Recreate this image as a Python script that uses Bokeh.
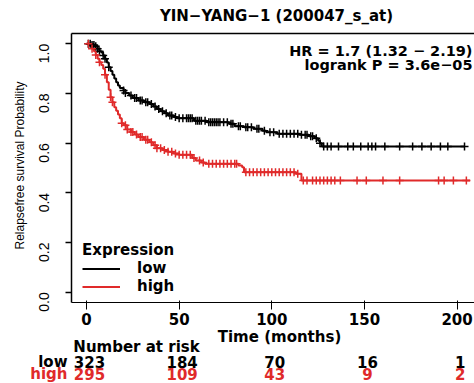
import math
import numpy as np
from bokeh.plotting import figure
from bokeh.models import (Range1d, FixedTicker, NumeralTickFormatter, LinearAxis,
                          Label, Legend, LegendItem)
from bokeh.embed import file_html
from bokeh.resources import INLINE

# ---------------- data ----------------
title_text = "YIN\u2212YANG\u22121 (200047_s_at)"
hr_text = "HR = 1.7 (1.32 \u2212 2.19)"
p_text = "logrank P = 3.6e\u221205"
group_names = ["low", "high"]

# Kaplan-Meier steps (months, survival)
low_time = [0, 3, 5, 6, 7, 8, 9, 10, 11, 12, 13, 14, 15, 16, 17, 18, 20, 21, 23, 25, 28, 31,
            34, 36, 38, 40, 42, 44, 47, 49, 58, 65, 77, 80, 85, 90, 95, 97, 103, 115, 120,
            123, 125, 126, 127, 204]
low_surv = [1.0, 0.995, 0.99, 0.98, 0.97, 0.965, 0.953, 0.94, 0.925, 0.906, 0.89, 0.875, 0.86,
            0.845, 0.832, 0.822, 0.812, 0.802, 0.792, 0.782, 0.772, 0.765, 0.758, 0.748, 0.738,
            0.728, 0.72, 0.711, 0.705, 0.70, 0.69, 0.684, 0.678, 0.668, 0.664, 0.658, 0.65,
            0.644, 0.638, 0.634, 0.628, 0.62, 0.61, 0.60, 0.587, 0.587]
low_censor = [1, 2, 3, 4, 5, 6, 7, 9, 10, 12, 20, 21, 24, 26, 27, 29, 30, 32, 33, 35, 37, 39, 41,
              43, 45, 46, 48, 50, 52, 54, 55, 56, 57, 59, 60, 61, 62, 64, 66, 67, 68, 69, 70, 71,
              72, 74, 76, 78, 79, 82, 83, 86, 87, 89, 92, 93, 96, 99, 101, 104, 106, 108, 110,
              112, 114, 116, 118, 119, 121, 122, 124, 126, 128, 130, 132, 136, 141, 144, 148,
              152, 154, 156, 161, 169, 176, 181, 186, 191, 195, 204]

high_time = [0, 2, 3, 4, 5, 6, 7, 8, 9, 10, 11, 12, 13, 14, 15, 16, 17, 18, 19, 20, 22, 24, 26,
             28, 31, 34, 36, 38, 41, 44, 47, 50, 57, 59, 62, 64, 82, 84, 85, 113, 116, 207]
high_surv = [1.0, 0.99, 0.98, 0.97, 0.955, 0.94, 0.926, 0.915, 0.90, 0.875, 0.845, 0.815, 0.785,
             0.765, 0.745, 0.73, 0.715, 0.70, 0.68, 0.672, 0.655, 0.645, 0.635, 0.625, 0.614,
             0.604, 0.592, 0.58, 0.572, 0.565, 0.558, 0.553, 0.54, 0.53, 0.522, 0.517, 0.51,
             0.503, 0.483, 0.477, 0.45, 0.45]
high_censor = [1, 3, 5, 7, 10, 13, 14, 19, 21, 22, 24, 25, 27, 29, 30, 32, 33, 35, 37, 38, 40,
               42, 44, 46, 48, 50, 52, 54, 56, 58, 61, 63, 66, 68, 70, 72, 74, 76, 78, 80, 81,
               86, 88, 90, 92, 94, 96, 98, 100, 102, 104, 106, 108, 110, 112, 114, 117, 119,
               122, 124, 126, 128, 130, 132, 134, 137, 146, 151, 160, 169, 190, 193, 198, 205]

x_ticks = [0, 50, 100, 150, 200]
y_ticks = [0.0, 0.2, 0.4, 0.6, 0.8, 1.0]
risk_times = [0, 50, 100, 150, 200]
risk_low = [323, 184, 70, 16, 1]
risk_high = [295, 109, 43, 9, 2]

# ---------------- style / layout ----------------
BLACK = "#000000"
RED = "#E02A2A"
BOLD = "DejaVu Sans"
REG = "Liberation Sans"

W, H = 474, 383
# canvas pixel <-> data mapping (frame covers whole canvas)
X0_PX, PX_PER_MONTH = 86.0, 1.853
Y0_PX, PX_PER_UNIT = 291.7, 248.4
XR = (-X0_PX / PX_PER_MONTH, (W - X0_PX) / PX_PER_MONTH)
YR = ((Y0_PX - H) / PX_PER_UNIT, Y0_PX / PX_PER_UNIT)


def dx(px):
    return (px - X0_PX) / PX_PER_MONTH


def dy(py):
    return (Y0_PX - py) / PX_PER_UNIT


BOX_L, BOX_T, BOX_B = dx(71), dy(33), dy(302)

p = figure(width=W, height=H, output_backend="svg", toolbar_location=None,
           x_range=Range1d(*XR), y_range=Range1d(*YR),
           min_border_left=0, min_border_right=0, min_border_top=0, min_border_bottom=0)
p.outline_line_color = None
p.grid.visible = False
p.background_fill_color = "white"
p.border_fill_color = "white"

top = LinearAxis(ticker=FixedTicker(ticks=[]))
p.add_layout(top, "above")

for ax in (p.xaxis[0], p.yaxis[0], top):
    ax.axis_line_color = BLACK
    ax.axis_line_width = 1.5
    ax.major_tick_line_color = BLACK
    ax.major_tick_line_width = 1.5
    ax.major_tick_in = 0
    ax.minor_tick_in = 0
    ax.minor_tick_out = 0

p.xaxis.fixed_location = BOX_B
p.xaxis.bounds = (BOX_L, XR[1] + 5)
p.xaxis.ticker = FixedTicker(ticks=x_ticks)
p.xaxis.major_tick_out = 7
p.xaxis.major_label_standoff = 3
p.xaxis.major_label_text_font = BOLD
p.xaxis.major_label_text_font_style = "bold"
p.xaxis.major_label_text_font_size = "15px"
p.xaxis.major_label_text_color = BLACK

p.yaxis.fixed_location = BOX_L
p.yaxis.bounds = (BOX_B, BOX_T)
p.yaxis.ticker = FixedTicker(ticks=y_ticks)
p.yaxis.formatter = NumeralTickFormatter(format="0.0")
p.yaxis.major_tick_out = 6
p.yaxis.major_label_standoff = 21
p.yaxis.major_label_orientation = math.pi / 2
p.yaxis.major_label_text_font = REG
p.yaxis.major_label_text_font_size = "14px"
p.yaxis.major_label_text_color = BLACK

top.fixed_location = BOX_T
top.bounds = (BOX_L, XR[1] + 5)
top.major_tick_out = 0
top.major_label_text_alpha = 0


def km_at(times, surv, t):
    idx = np.searchsorted(np.asarray(times), np.asarray(t), side="right") - 1
    return np.asarray(surv)[idx]


r_low = p.step(low_time, low_surv, mode="after", line_color=BLACK, line_width=2)
r_high = p.step(high_time, high_surv, mode="after", line_color=RED, line_width=2)
p.scatter(low_censor, km_at(low_time, low_surv, low_censor), marker="cross", size=8,
          line_color=BLACK, line_width=1.5)
p.scatter(high_censor, km_at(high_time, high_surv, high_censor), marker="cross", size=8,
          line_color=RED, line_width=1.5)

legend = Legend(items=[LegendItem(label=group_names[0], renderers=[r_low]),
                       LegendItem(label=group_names[1], renderers=[r_high])],
                title="Expression", location=(82, 88), orientation="vertical",
                title_text_font=BOLD, title_text_font_style="bold", title_text_font_size="15px",
                title_text_color=BLACK, title_standoff=0,
                label_text_font=BOLD, label_text_font_style="bold", label_text_font_size="15px",
                label_text_color=BLACK,
                label_height=17, glyph_height=17, glyph_width=38, label_standoff=17,
                spacing=0, padding=0, margin=0,
                background_fill_alpha=0, border_line_alpha=0)
p.add_layout(legend)


def add_label(text, px, py, align="left", color=BLACK, font=BOLD, style="bold", size="15px",
              angle=0.0, x_data=None, x_offset=0):
    lbl = Label(x=dx(px) if x_data is None else x_data, y=dy(py), text=text,
                text_align=align, text_baseline="middle", text_color=color,
                text_font=font, text_font_style=style, text_font_size=size,
                angle=angle, x_offset=x_offset)
    p.add_layout(lbl)


add_label(title_text, 276, 15.3, align="center")
add_label(hr_text, 472, 50.3, align="right", size="14.5px")
add_label(p_text, 472, 64.7, align="right", size="14.5px")
add_label("Relapsefree survival Probability", 19, 165, align="center", font=REG,
          style="normal", size="12px", angle=math.pi / 2)
add_label("Time (months)", 279, 336.5, align="center")
add_label("Number at risk", 136, 346.5, align="center")
add_label(group_names[0], 67, 361, align="right")
add_label(group_names[1], 67, 373, align="right", color=RED)
for t, n in zip(risk_times, risk_low):
    add_label(str(n), 0, 361, align="center", x_data=t, x_offset=3)
for t, n in zip(risk_times, risk_high):
    add_label(str(n), 0, 373, align="center", color=RED, x_data=t, x_offset=3)

open("out.html", "w").write(file_html(p, INLINE))
